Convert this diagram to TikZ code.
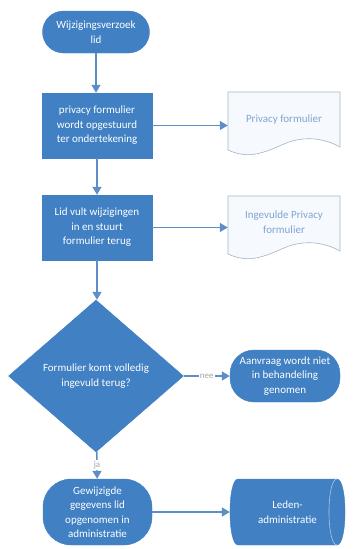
\documentclass[tikz,border=0pt]{standalone}
\usepackage{fontspec}
\setmainfont{Carlito}
\usetikzlibrary{arrows.meta,shapes.geometric}
\definecolor{fc}{HTML}{4080C3}
\definecolor{lc}{HTML}{5E8EC8}
\definecolor{dtext}{HTML}{7EA5D4}
\definecolor{dline}{HTML}{A3B4C9}
\definecolor{dfill}{HTML}{F6F9FD}
\begin{document}
\begin{tikzpicture}[x=1pt,y=-1pt,
 base/.style={font=\fontsize{11}{14.5}\selectfont, align=center, text=white, inner sep=0pt},
 term/.style={base, fill=fc, draw=fc, rounded corners=#1},
 proc/.style={base, fill=fc, draw=fc},
 docbox/.style={base, text=dtext, minimum width=112pt, minimum height=56pt},
 docshape/.style={fill=dfill, draw=dline, line width=0.6pt},
 conn/.style={draw=lc, line width=1.4pt, -{Triangle[length=8pt,width=9pt]}},
 lbl/.style={font=\fontsize{9}{10}\selectfont, text=gray!70, fill=white, inner sep=1pt}]
\useasboundingbox (0,0) rectangle (358,549);

% document shapes
\path[docshape] (228,92) -- (340,92) -- (340,147)
  .. controls (320,136) and (300,137) .. (284,144)
  .. controls (265,152) and (250,160) .. (228,150) -- cycle;
\path[docshape] (228,196) -- (340,196) -- (340,251)
  .. controls (320,240) and (300,241) .. (284,248)
  .. controls (265,256) and (250,264) .. (228,254) -- cycle;
% database shape
\path[fill=fc, draw=fc] (238,479) -- (337,479)
  .. controls (347.7,479) and (347.7,545) .. (337,545)
  -- (238,545) .. controls (227.3,545) and (227.3,479) .. (238,479) -- cycle;
\draw[white!55!fc, line width=0.6pt] (337,479) .. controls (326.3,479) and (326.3,545) .. (337,545);

\node[term=21pt, minimum width=107pt, minimum height=42pt] (start) at (96,32) {Wijzigingsverzoek\\lid};
\node[proc, minimum width=110pt, minimum height=65pt] (p1) at (97,125.5) {privacy formulier\\wordt opgestuurd\\ter ondertekening};
\node[docbox] (d1) at (284,120) {Privacy formulier};
\node[proc, minimum width=110pt, minimum height=65pt] (p2) at (97,227.5) {Lid vult wijzigingen\\in en stuurt\\formulier terug};
\node[docbox] (d2) at (284,222) {Ingevulde Privacy\\formulier};
\node[base, diamond, fill=fc, draw=fc, minimum width=175pt, minimum height=152pt] (dec) at (96,376) {Formulier komt volledig\\ingevuld terug?};
\node[term=24pt, minimum width=110pt, minimum height=52pt] (rej) at (285,376) {Aanvraag wordt niet\\in behandeling\\genomen};
\node[term=28pt, minimum width=109pt, minimum height=66pt] (done) at (97.5,512) {Gewijzigde\\gegevens lid\\opgenomen in\\administratie};
\node[base, minimum width=115pt, minimum height=66pt] (db) at (287.5,512) {Leden-\\administratie};

\draw[conn] (start.south) -- (start.south |- p1.north);
\draw[conn] (p1.east) -- (p1.east -| d1.west);
\draw[conn] (p1.south) -- (p1.south |- p2.north);
\draw[conn] (p2.east) -- (p2.east -| d2.west);
\draw[conn] (p2.south) -- (p2.south |- dec.north);
\draw[conn] (dec) -- node[lbl]{nee} (rej);
\draw[conn] (dec) -- node[lbl]{ja} (done);
\draw[conn] (done) -- (db);
\end{tikzpicture}
\end{document}
